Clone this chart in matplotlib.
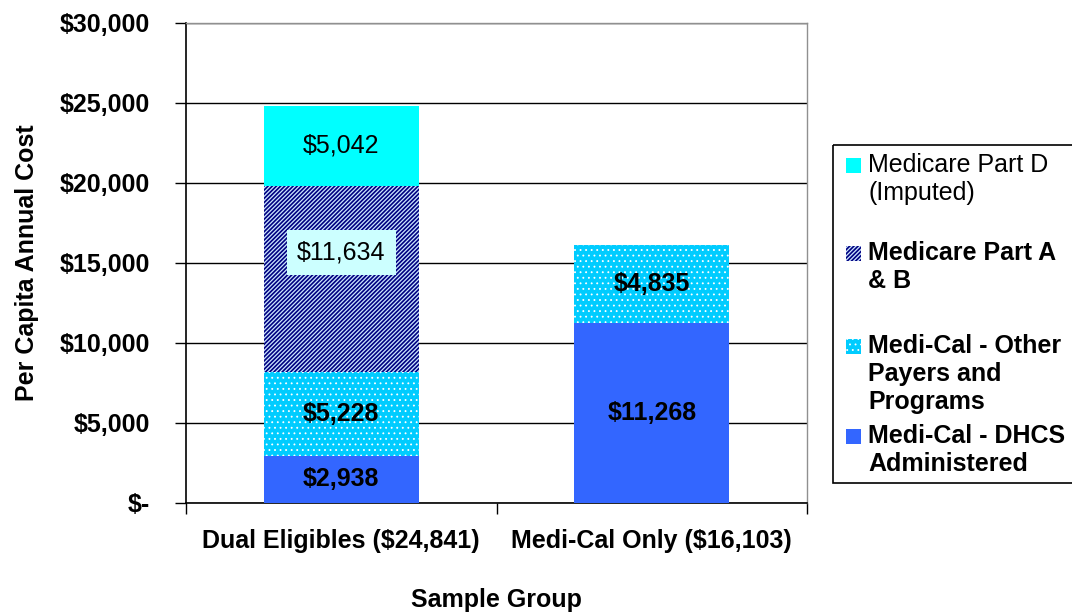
import matplotlib
matplotlib.use("Agg")
import matplotlib.pyplot as plt
from matplotlib.patches import Rectangle
from matplotlib.ticker import FuncFormatter
import numpy as np

groups = ["Dual Eligibles ($24,841)", "Medi-Cal Only ($16,103)"]
dhcs = [2938, 11268]
other = [5228, 4835]
part_ab = [11634, 0]
part_d = [5042, 0]

series_names = [
    "Medicare Part D\n(Imputed)",
    "Medicare Part A\n& B",
    "Medi-Cal - Other\nPayers and\nPrograms",
    "Medi-Cal - DHCS\nAdministered",
]

W, H = 1072, 613
plt.rcParams["font.family"] = ["Liberation Sans", "DejaVu Sans"]

STRIPE = dict(facecolor="#CCE6FF", edgecolor="#000080", hatch="////////", linewidth=0)
DOTS = dict(facecolor="#00CCFF", edgecolor="white", hatch="...", linewidth=0)


def set_hlw(patches, lw):
    for p in patches:
        if hasattr(p, "set_hatch_linewidth"):
            p.set_hatch_linewidth(lw)


fig = plt.figure(figsize=(W / 100, H / 100), dpi=100)
ax = fig.add_axes([186 / W, (H - 503) / H, (807 - 186) / W, (503 - 23) / H])

x = np.arange(len(groups))
bw = 0.5
fs = 18

bottom = np.zeros(len(groups))
with plt.rc_context({"hatch.linewidth": 0.6}):
    ax.bar(x, dhcs, bw, bottom=bottom, color="#3366FF", linewidth=0, zorder=3)
    bottom += dhcs
    b2 = ax.bar(x, other, bw, bottom=bottom, zorder=3, **DOTS)
    set_hlw(b2, 0.6)
    bottom += other
with plt.rc_context({"hatch.linewidth": 1.2}):
    b3 = ax.bar(x, part_ab, bw, bottom=bottom, zorder=3, **STRIPE)
    set_hlw(b3, 1.2)
bottom += part_ab
ax.bar(x, part_d, bw, bottom=bottom, color="#00FFFF", linewidth=0, zorder=3)


def money(v):
    return f"${v:,.0f}"


base = np.zeros(len(groups))
for vals, bold in [(dhcs, True), (other, True), (part_ab, False), (part_d, False)]:
    for i, v in enumerate(vals):
        if v > 0:
            y = base[i] + v / 2
            kw = {}
            if vals is part_ab:
                y += 1650
                kw["bbox"] = dict(boxstyle="square,pad=0.42", fc="#CCFFFF", ec="none")
            ax.text(x[i], y, money(v), ha="center", va="center", fontsize=fs,
                    fontweight="bold" if bold else "normal", zorder=5, **kw)
    base += vals

ax.set_ylim(0, 30000)
ax.set_xlim(-0.5, 1.5)
ax.set_yticks(np.arange(0, 30001, 5000))
ax.yaxis.set_major_formatter(FuncFormatter(lambda v, p: "$-" if v == 0 else f"${v:,.0f}"))
ax.yaxis.grid(True, color="black", linewidth=1, zorder=1)
ax.set_axisbelow(True)

ax.set_xticks([-0.5, 0.5, 1.5])
ax.set_xticklabels([])
ax.set_xticks(x, minor=True)
ax.set_xticklabels(groups, minor=True, fontsize=fs, fontweight="bold")
ax.tick_params(axis="x", which="major", length=8, width=1, direction="out")
ax.tick_params(axis="x", which="minor", length=0, pad=19)
ax.tick_params(axis="y", length=8, width=1, direction="out", pad=18, labelsize=fs)
for t in ax.get_yticklabels():
    t.set_fontweight("bold")

for s in ["top", "right"]:
    ax.spines[s].set_color("#909090")
    ax.spines[s].set_linewidth(1)
for s in ["left", "bottom"]:
    ax.spines[s].set_color("black")
    ax.spines[s].set_linewidth(1.2)

ax.set_ylabel("Per Capita Annual Cost", fontsize=fs, fontweight="bold", labelpad=0)
ax.yaxis.set_label_coords(-(186 - 39) / (807 - 186), 0.5)
fig.text(496 / W, 1 - 600 / H, "Sample Group", ha="center", va="center",
         fontsize=fs, fontweight="bold")

# legend drawn in pixel coordinates
lax = fig.add_axes([0, 0, 1, 1], zorder=10)
lax.set_xlim(0, W)
lax.set_ylim(H, 0)
lax.axis("off")
lax.add_patch(Rectangle((833, 145), 260, 338, fill=False, ec="black", lw=1.2))
swatches = [
    dict(facecolor="#00FFFF", edgecolor="none", linewidth=0),
    STRIPE,
    DOTS,
    dict(facecolor="#3366FF", edgecolor="none", linewidth=0),
]
hlw = [None, 1.2, 0.6, None]
tops = [157, 245, 338, 428]
for name, sw, lw, top, bold in zip(series_names, swatches, hlw, tops,
                                   [False, True, True, True]):
    with plt.rc_context({"hatch.linewidth": lw or 1.0}):
        r = Rectangle((846, top + 1), 15, 15, **sw)
        if lw:
            set_hlw([r], lw)
        lax.add_patch(r)
    lax.text(868, top - 4, name, ha="left", va="top", fontsize=fs,
             fontweight="bold" if bold else "normal", linespacing=1.2)

fig.savefig("out.png", dpi=100)
